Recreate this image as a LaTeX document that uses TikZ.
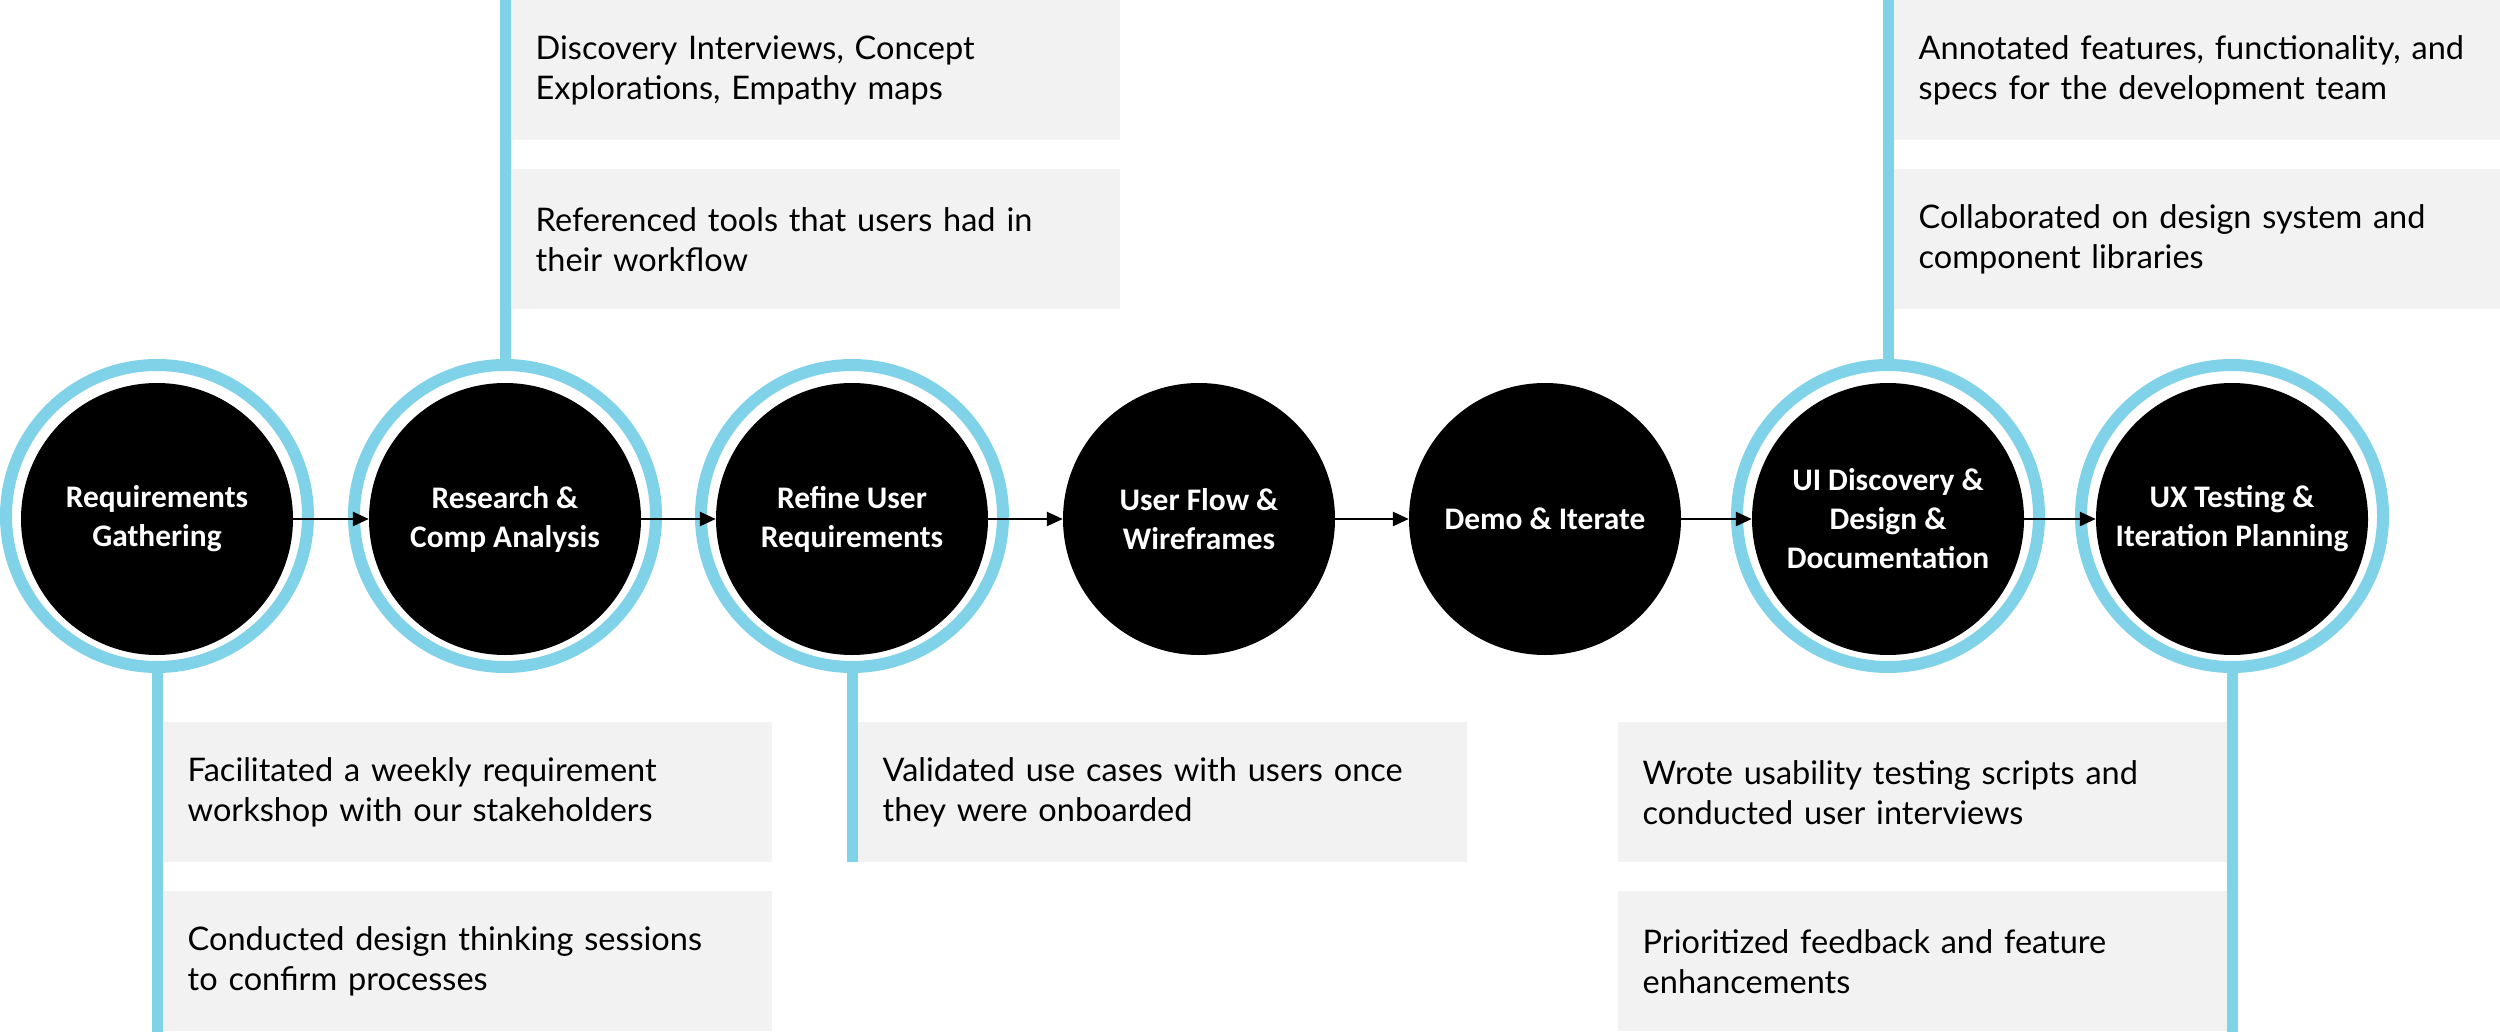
\documentclass[tikz,border=0pt]{standalone}
\usepackage{fontspec}
\setmainfont{Lato}
\newfontfamily\titlefont{Carlito}
\usetikzlibrary{arrows.meta}
\definecolor{ringblue}{HTML}{80D2E9}
\definecolor{boxgrey}{HTML}{F2F2F2}
\tikzset{
  stage/.style={circle, fill=black, minimum size=272pt, inner sep=0pt, text=white, align=center,
    font=\titlefont\bfseries\fontsize{31.4}{39}\selectfont},
  ring/.style={circle, draw=ringblue, line width=12pt, minimum size=302pt, inner sep=0pt},
  flow/.style={draw=black, line width=2.5pt, -{Triangle[length=16pt,width=14pt]}},
  stem/.style={draw=ringblue, line width=11pt},
  infobox/.style={fill=boxgrey, minimum width=609pt, minimum height=140pt, text width=559pt,
    inner xsep=25pt, inner ysep=0pt, align=left, anchor=north west,
    font=\fontsize{32.5}{40}\selectfont, text=black}
}
\begin{document}
\begin{tikzpicture}[x=1pt,y=-1pt]
\useasboundingbox[fill=white] (0,0) rectangle (2500,1032);
\coordinate (top) at (0,0);
\coordinate (bottom) at (0,1032);
\coordinate (mid) at (0,862);
% rings
\node[ring] (r1) at (157,516) {};
\node[ring] (r2) at (505,516) {};
\node[ring] (r3) at (852,516) {};
\node[ring] (r6) at (1888,516) {};
\node[ring] (r7) at (2232,516) {};
% stages
\node[stage] (s1) at (157,519) {Requirements\\Gathering};
\node[stage] (s2) at (505,519) {Research \&\\Comp Analysis};
\node[stage] (s3) at (852,519) {Refine User\\Requirements};
\node[stage] (s4) at (1199,519) {User Flow \&\\Wireframes};
\node[stage] (s5) at (1545,519) {Demo \& Iterate};
\node[stage] (s6) at (1888,519) {UI Discovery \&\\Design \&\\Documentation};
\node[stage] (s7) at (2232,519) {UX Testing \&\\Iteration Planning};
% flow arrows
\draw[flow] (s1) -- (s2);
\draw[flow] (s2) -- (s3);
\draw[flow] (s3) -- (s4);
\draw[flow] (s4) -- (s5);
\draw[flow] (s5) -- (s6);
\draw[flow] (s6) -- (s7);
% stems
\draw[stem] (r1.south) -- (r1.south |- bottom);
\draw[stem] (r2.north) -- (r2.north |- top);
\draw[stem] (r3.south) -- (r3.south |- mid);
\draw[stem] (r6.north) -- (r6.north |- top);
\draw[stem] (r7.south) -- (r7.south |- bottom);
% boxes
\node[infobox] (t2a) at (510.5,0) {Discovery Interviews, Concept\\Explorations, Empathy maps};
\node[infobox] (t2b) at (510.5,169) {Referenced tools that users had in\\their workflow};
\node[infobox, minimum width=606.5pt, text width=556.5pt, inner xsep=23pt] (t6a) at (1893.5,0) {Annotated features, functionality, and\\specs for the development team};
\node[infobox, minimum width=606.5pt, text width=556.5pt, inner xsep=23pt] (t6b) at (1893.5,169) {Collaborated on design system and\\component libraries};
\node[infobox] (b1a) at (162.5,722) {Facilitated a weekly requirement\\workshop with our stakeholders};
\node[infobox] (b1b) at (162.5,891) {Conducted design thinking sessions\\to confirm processes};
\node[infobox] (b3a) at (857.5,722) {Validated use cases with users once\\they were onboarded};
\node[infobox] (b7a) at (1617.5,722) {Wrote usability testing scripts and\\conducted user interviews};
\node[infobox] (b7b) at (1617.5,891) {Prioritized feedback and feature\\enhancements};
\end{tikzpicture}
\end{document}
